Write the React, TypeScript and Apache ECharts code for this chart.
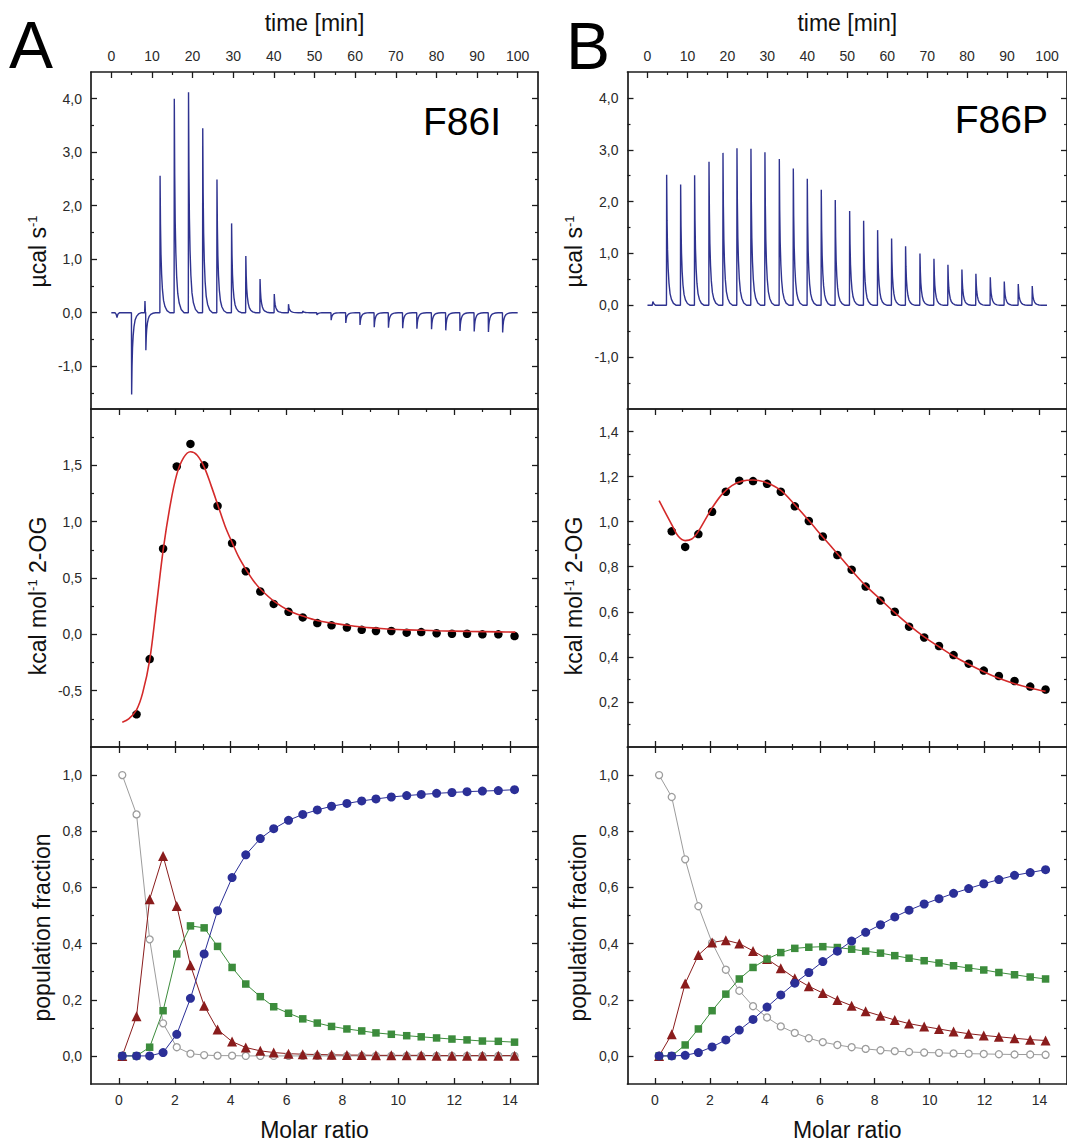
import React, { useEffect, useRef } from "react";
import * as echarts from "echarts";

// ---------------- data ----------------
const timeMajors = [0, 10, 20, 30, 40, 50, 60, 70, 80, 90, 100];
const timeMinors = [5, 15, 25, 35, 45, 55, 65, 75, 85, 95];
const molarMajors = [0, 2, 4, 6, 8, 10, 12, 14];
const molarMinors = [1, 3, 5, 7, 9, 11, 13];

// raw thermograms: injection times (min) and peak heights (µcal/s)
const injTimeA = [5.0, 8.5, 12.0, 15.5, 19.0, 22.5, 26.0, 29.6, 33.1, 36.6, 40.1, 43.6, 47.1, 50.6, 54.1, 57.7, 61.2, 64.7, 68.2, 71.7, 75.2, 78.8, 82.3, 85.8, 89.3, 92.8, 96.3];
const injPeakA = [-1.53, -0.70, 2.56, 4.0, 4.12, 3.45, 2.49, 1.67, 1.06, 0.63, 0.35, 0.16, 0.03, -0.04, -0.14, -0.19, -0.23, -0.27, -0.28, -0.29, -0.30, -0.31, -0.33, -0.34, -0.35, -0.36, -0.37];
const extraA: [number, number][] = [[0, 0], [0.9, 0], [1.2, -0.03], [1.4, -0.09], [1.6, -0.03], [2.0, 0], [8.2, 0], [8.28, 0.22], [8.38, 0.02], [100, 0]];

const injTimeB = [4.8, 8.3, 11.8, 15.4, 18.9, 22.4, 25.9, 29.4, 33.0, 36.5, 40.0, 43.5, 47.0, 50.6, 54.1, 57.6, 61.1, 64.6, 68.2, 71.7, 75.2, 78.7, 82.2, 85.8, 89.3, 92.8, 96.3];
const injPeakB = [2.52, 2.33, 2.51, 2.77, 2.94, 3.03, 3.02, 2.95, 2.82, 2.64, 2.44, 2.23, 2.03, 1.82, 1.63, 1.45, 1.29, 1.14, 1.0, 0.9, 0.78, 0.69, 0.61, 0.54, 0.46, 0.41, 0.37];
const extraB: [number, number][] = [[0, 0], [1.2, 0], [1.35, 0.07], [1.6, 0.03], [2.0, 0], [100, 0]];

// shape of one injection peak (offset in min, fraction of peak)
const decayOffsets = [0, 0.1, 0.22, 0.38, 0.58, 0.85, 1.2, 1.7, 2.4];
const decayFractions = [1, 0.65, 0.43, 0.28, 0.17, 0.09, 0.045, 0.015, 0];

// molar ratios of injections
const molarA = [0.12, 0.63, 1.10, 1.58, 2.07, 2.56, 3.05, 3.53, 4.05, 4.54, 5.06, 5.54, 6.07, 6.58, 7.10, 7.61, 8.16, 8.69, 9.20, 9.75, 10.30, 10.82, 11.37, 11.92, 12.46, 13.01, 13.58, 14.16];
const molarB = [0.15, 0.61, 1.10, 1.58, 2.08, 2.58, 3.07, 3.57, 4.08, 4.58, 5.09, 5.60, 6.11, 6.64, 7.16, 7.67, 8.21, 8.73, 9.25, 9.80, 10.34, 10.87, 11.42, 11.97, 12.52, 13.09, 13.66, 14.22];

// integrated heats (kcal/mol 2-OG), injections 2..28
const heatA = [-0.71, -0.22, 0.76, 1.49, 1.69, 1.50, 1.14, 0.81, 0.56, 0.38, 0.27, 0.20, 0.15, 0.10, 0.08, 0.06, 0.04, 0.03, 0.03, 0.015, 0.02, 0.01, 0.005, 0.005, 0.0, 0.0, -0.015];
const heatB = [0.957, 0.888, 0.945, 1.044, 1.133, 1.182, 1.180, 1.168, 1.133, 1.068, 1.003, 0.934, 0.852, 0.787, 0.712, 0.650, 0.600, 0.534, 0.486, 0.448, 0.408, 0.370, 0.339, 0.315, 0.293, 0.268, 0.255];

// fitted curves
const fitAx = [0.12, 0.35, 0.63, 0.85, 1.10, 1.35, 1.59, 1.83, 2.07, 2.32, 2.56, 2.80, 3.06, 3.30, 3.55, 3.80, 4.06, 4.30, 4.56, 4.80, 5.07, 5.57, 6.09, 6.61, 7.13, 7.64, 8.18, 8.71, 9.22, 9.77, 10.32, 11.40, 12.49, 13.62, 14.19];
const fitAy = [-0.78, -0.75, -0.67, -0.52, -0.23, 0.27, 0.76, 1.14, 1.42, 1.57, 1.62, 1.59, 1.48, 1.32, 1.14, 0.96, 0.81, 0.68, 0.57, 0.48, 0.40, 0.29, 0.21, 0.16, 0.12, 0.10, 0.08, 0.065, 0.055, 0.045, 0.04, 0.032, 0.026, 0.022, 0.02];
const fitBx = [0.15, 0.61, 0.85, 1.10, 1.34, 1.58, 1.83, 2.08, 2.43, 2.80, 3.17, 3.57, 4.02, 4.58, 5.09, 5.60, 6.11, 6.64, 7.16, 7.67, 8.21, 8.73, 9.25, 9.80, 10.34, 10.87, 11.42, 11.97, 12.52, 13.09, 13.66, 14.22];
const fitBy = [1.093, 0.987, 0.935, 0.916, 0.923, 0.957, 1.009, 1.061, 1.12, 1.16, 1.18, 1.185, 1.175, 1.139, 1.075, 1.005, 0.932, 0.858, 0.784, 0.716, 0.655, 0.596, 0.541, 0.489, 0.445, 0.404, 0.367, 0.334, 0.305, 0.281, 0.262, 0.247];

// population fractions
const freeA = [1.0, 0.86, 0.415, 0.116, 0.031, 0.008, 0.003, 0.001, 0.001, 0, 0, 0, 0, 0, 0, 0, 0, 0, 0, 0, 0, 0, 0, 0, 0, 0, 0, 0];
const triA = [0, 0.141, 0.558, 0.712, 0.534, 0.323, 0.179, 0.094, 0.051, 0.030, 0.018, 0.012, 0.008, 0.006, 0.005, 0.004, 0.003, 0.003, 0.002, 0.002, 0.002, 0.002, 0.001, 0.001, 0.001, 0.001, 0.001, 0.001];
const sqA = [0, 0, 0.031, 0.161, 0.363, 0.463, 0.456, 0.390, 0.315, 0.256, 0.211, 0.175, 0.152, 0.132, 0.117, 0.105, 0.096, 0.089, 0.082, 0.077, 0.072, 0.068, 0.064, 0.060, 0.057, 0.053, 0.052, 0.049];
const circA = [0, 0, 0, 0.012, 0.077, 0.205, 0.363, 0.517, 0.635, 0.716, 0.774, 0.809, 0.839, 0.860, 0.876, 0.889, 0.899, 0.908, 0.915, 0.922, 0.927, 0.931, 0.935, 0.938, 0.941, 0.943, 0.945, 0.948];

const freeB = [1.0, 0.922, 0.700, 0.533, 0.403, 0.307, 0.232, 0.177, 0.137, 0.105, 0.082, 0.063, 0.049, 0.039, 0.031, 0.025, 0.020, 0.017, 0.014, 0.012, 0.011, 0.009, 0.008, 0.007, 0.006, 0.005, 0.005, 0.004];
const triB = [0, 0.077, 0.258, 0.359, 0.404, 0.412, 0.400, 0.374, 0.345, 0.312, 0.277, 0.248, 0.224, 0.199, 0.179, 0.159, 0.143, 0.128, 0.115, 0.105, 0.096, 0.087, 0.079, 0.073, 0.068, 0.063, 0.058, 0.055];
const sqB = [0, 0, 0.039, 0.096, 0.161, 0.220, 0.274, 0.315, 0.345, 0.368, 0.383, 0.387, 0.389, 0.386, 0.380, 0.373, 0.366, 0.357, 0.348, 0.339, 0.331, 0.321, 0.313, 0.306, 0.297, 0.289, 0.281, 0.274];
const circB = [0, 0, 0.002, 0.012, 0.032, 0.057, 0.092, 0.130, 0.174, 0.217, 0.259, 0.297, 0.336, 0.373, 0.409, 0.440, 0.467, 0.495, 0.519, 0.541, 0.560, 0.579, 0.596, 0.613, 0.628, 0.643, 0.653, 0.663];

// ---------------- styling ----------------
const FONT = '"Liberation Sans", Arial, Helvetica, sans-serif';
const INK = "#1c1c1c";
const LABEL = "#2a2a2a";
const NAVY = "#2f3390";
const RED = "#d42a2a";
const GRAY = "#9c9c9c";
const DRED = "#8a1c1c";
const GREEN = "#3c8c3c";
const BLUE = "#2b2f97";

const fmt1 = (v: number) => v.toFixed(1).replace(".", ",").replace(/^-0,0$/, "0,0");
const fmt0 = (v: number) => String(Math.round(v));

function buildTrace(times: number[], peaks: number[], extra: [number, number][]) {
  const pts: [number, number][] = extra.slice();
  times.forEach((t, i) => {
    pts.push([t - 0.05, 0]);
    decayOffsets.forEach((o, k) => pts.push([t + o, peaks[i] * decayFractions[k]]));
  });
  pts.sort((a, b) => a[0] - b[0]);
  return pts;
}

const zip = (xs: number[], ys: number[]) => xs.map((x, i) => [x, ys[i]]);

function buildOption() {
  const xAxes: any[] = [];
  const yAxes: any[] = [];
  const series: any[] = [];
  const grids: any[] = [];

  function addEdge(
    list: any[],
    o: {
      grid: number; pos: string; min: number; max: number; majors: number[]; minors: number[];
      labels?: number[]; fmt?: (v: number) => string; name?: string; nameGap?: number; namePad?: number[];
    }
  ) {
    const idx = list.length;
    const major: any = {
      type: "value",
      gridIndex: o.grid,
      position: o.pos,
      min: o.min,
      max: o.max,
      splitLine: { show: false },
      axisLine: { show: true, onZero: false, lineStyle: { color: INK, width: 1.7 } },
      axisTick: o.majors.length
        ? { show: true, inside: true, length: 6, customValues: o.majors, lineStyle: { color: INK, width: 1.3 } }
        : { show: false },
      axisLabel: o.labels
        ? { show: true, customValues: o.labels, formatter: o.fmt, color: LABEL, fontSize: 14, fontFamily: FONT, margin: 9 }
        : { show: false },
    };
    if (o.name) {
      major.name = o.name;
      major.nameLocation = "middle";
      major.nameGap = o.nameGap;
      major.nameTextStyle = {
        fontSize: 23,
        fontFamily: FONT,
        color: "#111",
        padding: o.namePad || 0,
        rich: { sup: { fontSize: 13, fontFamily: FONT, color: "#111", verticalAlign: "top" } },
      };
    }
    list.push(major);
    if (o.minors.length) {
      list.push({
        type: "value",
        gridIndex: o.grid,
        position: o.pos,
        min: o.min,
        max: o.max,
        splitLine: { show: false },
        axisLine: { show: false, onZero: false },
        axisTick: { show: true, inside: true, length: 3, customValues: o.minors, lineStyle: { color: INK, width: 1.2 } },
        axisLabel: { show: false },
      });
    }
    return idx;
  }

  const cols = [
    {
      left: 91, width: 447,
      trace: buildTrace(injTimeA, injPeakA, extraA),
      topY: { min: -1.8, max: 4.5, majors: [-1, 0, 1, 2, 3, 4], minors: [-1.5, -0.5, 0.5, 1.5, 2.5, 3.5] },
      midY: { min: -1, max: 2, majors: [-0.5, 0, 0.5, 1, 1.5], minors: [-0.75, -0.25, 0.25, 0.75, 1.25, 1.75] },
      molar: molarA, heat: heatA, fx: fitAx, fy: fitAy,
      pops: [freeA, triA, sqA, circA],
    },
    {
      left: 627.5, width: 448,
      trace: buildTrace(injTimeB, injPeakB, extraB),
      topY: { min: -2, max: 4.5, majors: [-1, 0, 1, 2, 3, 4], minors: [-1.5, -0.5, 0.5, 1.5, 2.5, 3.5] },
      midY: { min: 0, max: 1.5, majors: [0.2, 0.4, 0.6, 0.8, 1.0, 1.2, 1.4], minors: [0.1, 0.3, 0.5, 0.7, 0.9, 1.1, 1.3] },
      molar: molarB, heat: heatB, fx: fitBx, fy: fitBy,
      pops: [freeB, triB, sqB, circB],
    },
  ];
  const rows = [
    { top: 72, height: 337 },
    { top: 409, height: 338 },
    { top: 747, height: 338 },
  ];

  cols.forEach((c) => {
    // ---- top: raw thermogram ----
    const g0 = grids.length;
    grids.push({ left: c.left, width: c.width, top: rows[0].top, height: rows[0].height });
    const tx = addEdge(xAxes, {
      grid: g0, pos: "top", min: -5, max: 105, majors: timeMajors, minors: timeMinors,
      labels: timeMajors, fmt: fmt0, name: "time [min]", nameGap: 38,
    });
    addEdge(xAxes, { grid: g0, pos: "bottom", min: -5, max: 105, majors: [], minors: [] });
    const ty = addEdge(yAxes, {
      grid: g0, pos: "left", min: c.topY.min, max: c.topY.max, majors: c.topY.majors, minors: c.topY.minors,
      labels: c.topY.majors, fmt: fmt1, name: "µcal s{sup|-1}", nameGap: 42, namePad: [0, 22, 0, 0],
    });
    addEdge(yAxes, { grid: g0, pos: "right", min: c.topY.min, max: c.topY.max, majors: c.topY.majors, minors: c.topY.minors });
    series.push({
      type: "line", xAxisIndex: tx, yAxisIndex: ty, data: c.trace, showSymbol: false, symbol: "none",
      lineStyle: { color: NAVY, width: 1.4 }, silent: true,
    });

    // ---- middle: integrated heats ----
    const g1 = grids.length;
    grids.push({ left: c.left, width: c.width, top: rows[1].top, height: rows[1].height });
    addEdge(xAxes, { grid: g1, pos: "top", min: -1, max: 15, majors: molarMajors, minors: molarMinors });
    const mx = addEdge(xAxes, { grid: g1, pos: "bottom", min: -1, max: 15, majors: molarMajors, minors: molarMinors });
    const my = addEdge(yAxes, {
      grid: g1, pos: "left", min: c.midY.min, max: c.midY.max, majors: c.midY.majors, minors: c.midY.minors,
      labels: c.midY.majors, fmt: fmt1, name: "kcal mol{sup|-1} 2-OG", nameGap: 42, namePad: [0, 36, 0, 0],
    });
    addEdge(yAxes, { grid: g1, pos: "right", min: c.midY.min, max: c.midY.max, majors: c.midY.majors, minors: c.midY.minors });
    series.push({
      type: "line", xAxisIndex: mx, yAxisIndex: my, data: zip(c.fx, c.fy), showSymbol: false, symbol: "none",
      smooth: 0.35, lineStyle: { color: RED, width: 1.6 }, silent: true,
    });
    series.push({
      type: "scatter", xAxisIndex: mx, yAxisIndex: my, data: zip(c.molar.slice(1), c.heat),
      symbol: "circle", symbolSize: 8.5, itemStyle: { color: "#000", opacity: 1 }, silent: true,
    });

    // ---- bottom: population fractions ----
    const g2 = grids.length;
    grids.push({ left: c.left, width: c.width, top: rows[2].top, height: rows[2].height });
    addEdge(xAxes, { grid: g2, pos: "top", min: -1, max: 15, majors: molarMajors, minors: molarMinors });
    const px = addEdge(xAxes, {
      grid: g2, pos: "bottom", min: -1, max: 15, majors: molarMajors, minors: molarMinors,
      labels: molarMajors, fmt: fmt0, name: "Molar ratio", nameGap: 34,
    });
    const py = addEdge(yAxes, {
      grid: g2, pos: "left", min: -0.1, max: 1.1, majors: [0, 0.2, 0.4, 0.6, 0.8, 1.0], minors: [0.1, 0.3, 0.5, 0.7, 0.9],
      labels: [0, 0.2, 0.4, 0.6, 0.8, 1.0], fmt: fmt1, name: "population fraction", nameGap: 38, namePad: [0, 24, 0, 0],
    });
    addEdge(yAxes, { grid: g2, pos: "right", min: -0.1, max: 1.1, majors: [0, 0.2, 0.4, 0.6, 0.8, 1.0], minors: [0.1, 0.3, 0.5, 0.7, 0.9] });

    const [free, tri, sq, circ] = c.pops;
    series.push({
      type: "line", xAxisIndex: px, yAxisIndex: py, data: zip(c.molar, free), symbol: "circle", symbolSize: 7,
      itemStyle: { color: "#fff", borderColor: GRAY, borderWidth: 1.3 }, lineStyle: { color: GRAY, width: 1 }, silent: true,
    });
    series.push({
      type: "line", xAxisIndex: px, yAxisIndex: py, data: zip(c.molar, tri), symbol: "triangle", symbolSize: 10,
      itemStyle: { color: DRED }, lineStyle: { color: DRED, width: 1 }, silent: true,
    });
    series.push({
      type: "line", xAxisIndex: px, yAxisIndex: py, data: zip(c.molar, sq), symbol: "rect", symbolSize: 7.5,
      itemStyle: { color: GREEN }, lineStyle: { color: GREEN, width: 1 }, silent: true,
    });
    series.push({
      type: "line", xAxisIndex: px, yAxisIndex: py, data: zip(c.molar, circ), symbol: "circle", symbolSize: 9,
      itemStyle: { color: BLUE }, lineStyle: { color: BLUE, width: 1 }, silent: true,
    });
  });

  const txt = (text: string, x: number, y: number, size: number, align: string) => ({
    type: "text",
    x,
    y,
    silent: true,
    style: {
      text,
      fill: "#000",
      font: `${size}px ${FONT}`,
      fontSize: size,
      fontFamily: FONT,
      textAlign: align,
      align,
      textVerticalAlign: "middle",
      verticalAlign: "middle",
    },
  });

  return {
    animation: false,
    backgroundColor: "#fff",
    grid: grids,
    xAxis: xAxes,
    yAxis: yAxes,
    series,
    graphic: [
      txt("A", 9, 45, 66, "left"),
      txt("B", 566, 46, 66, "left"),
      txt("F86I", 501, 121, 39, "right"),
      txt("F86P", 1048, 119, 39, "right"),
    ],
  };
}

export default function App() {
  const ref = useRef<HTMLDivElement>(null);
  useEffect(() => {
    document.body.style.margin = "0";
    const chart = echarts.init(ref.current as HTMLDivElement, null, { renderer: "svg" });
    chart.setOption(buildOption() as any);
    return () => chart.dispose();
  }, []);
  return <div ref={ref} style={{ width: 1067, height: 1142, position: "absolute", left: 0, top: 0, overflow: "hidden" }} />;
}
